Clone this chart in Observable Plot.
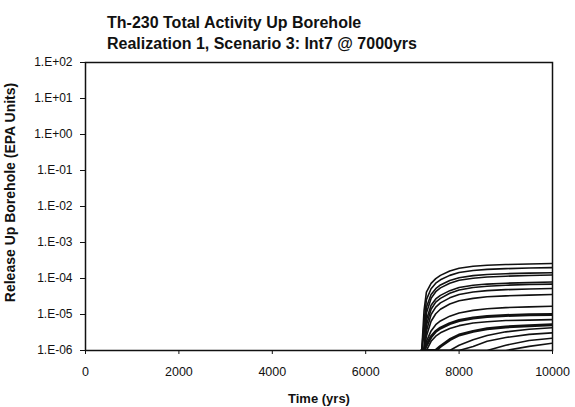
<!DOCTYPE html>
<html>
<head>
<meta charset="utf-8">
<script src="https://cdn.jsdelivr.net/npm/d3@7"></script>
<script src="https://cdn.jsdelivr.net/npm/@observablehq/plot@0.6"></script>
<style>
  html, body { margin: 0; padding: 0; background: #fff; }
  #wrap { position: relative; width: 575px; height: 407px; font-family: "Liberation Sans", Arial, sans-serif; }
  #title { position: absolute; left: 107px; top: 12px; z-index: 2; font-weight: bold; font-size: 16px; line-height: 21px; color: #111; white-space: nowrap; }
  #chart { position: absolute; left: 0; top: 50px; z-index: 1; }
</style>
</head>
<body>
<div id="wrap">
  <div id="title">Th-230 Total Activity Up Borehole<br>Realization 1, Scenario 3: Int7 @ 7000yrs</div>
  <div id="chart"></div>
</div>
<script>
// Time grid (yrs)
const times = [7200, 7250, 7300, 7400, 7500, 7600, 7800, 8000, 8300, 8600, 9000, 9500, 10000];

// Release up borehole (EPA units), one array per realization curve
const s1  = [1e-6, 1.3e-5, 4.2e-5, 7.3e-5, 9.9e-5, 1.22e-4, 1.61e-4, 1.92e-4, 2.18e-4, 2.34e-4, 2.44e-4, 2.52e-4, 2.6e-4];
const s2  = [1e-6, 6e-6, 2.6e-5, 5.2e-5, 7.4e-5, 9.2e-5, 1.22e-4, 1.46e-4, 1.66e-4, 1.79e-4, 1.88e-4, 1.95e-4, 2.0e-4];
const s3  = [1e-6, 3e-6, 1.6e-5, 3.6e-5, 5.2e-5, 6.6e-5, 8.8e-5, 1.05e-4, 1.2e-4, 1.29e-4, 1.36e-4, 1.41e-4, 1.45e-4];
const s4  = [1e-6, 1e-6, 1.1e-5, 2.8e-5, 4.3e-5, 5.5e-5, 7.4e-5, 8.9e-5, 1.02e-4, 1.1e-4, 1.16e-4, 1.21e-4, 1.25e-4];
const s5  = [1e-6, 1e-6, 7e-6, 1.8e-5, 2.7e-5, 3.4e-5, 4.6e-5, 5.6e-5, 6.5e-5, 7.0e-5, 7.4e-5, 7.7e-5, 8.0e-5];
const s6  = [1e-6, 1e-6, 5e-6, 1.4e-5, 2.2e-5, 2.8e-5, 3.9e-5, 4.8e-5, 5.6e-5, 6.1e-5, 6.5e-5, 6.8e-5, 7.0e-5];
const s7  = [1e-6, 1e-6, 3.5e-6, 1.0e-5, 1.6e-5, 2.1e-5, 2.9e-5, 3.6e-5, 4.2e-5, 4.6e-5, 4.9e-5, 5.1e-5, 5.3e-5];
const s8  = [1e-6, 1e-6, 2.5e-6, 6.5e-6, 1.05e-5, 1.4e-5, 1.95e-5, 2.4e-5, 2.8e-5, 3.1e-5, 3.3e-5, 3.45e-5, 3.6e-5];
const s9  = [1e-6, 1e-6, 1.8e-6, 3.5e-6, 5.2e-6, 6.6e-6, 9.0e-6, 1.1e-5, 1.3e-5, 1.44e-5, 1.55e-5, 1.63e-5, 1.7e-5];
const s10 = [1e-6, 1e-6, 1.4e-6, 2.4e-6, 3.4e-6, 4.2e-6, 5.6e-6, 6.8e-6, 8.0e-6, 8.8e-6, 9.4e-6, 9.8e-6, 1.0e-5];
const s11 = [1e-6, 1e-6, 1e-6, 1.8e-6, 2.5e-6, 3.1e-6, 4.1e-6, 4.9e-6, 5.8e-6, 6.3e-6, 6.8e-6, 7.0e-6, 7.2e-6];
const s12 = [1e-6, 1e-6, 1e-6, 1e-6, 1e-6, 1.3e-6, 2.0e-6, 2.7e-6, 3.4e-6, 4.0e-6, 4.5e-6, 4.9e-6, 5.2e-6];
const s13 = [1e-6, 1e-6, 1e-6, 1e-6, 1e-6, 1e-6, 1e-6, 1.4e-6, 2.0e-6, 2.6e-6, 3.3e-6, 3.9e-6, 4.3e-6];
const s14 = [1e-6, 1e-6, 1e-6, 1e-6, 1e-6, 1e-6, 1e-6, 1e-6, 1.3e-6, 1.8e-6, 2.3e-6, 2.8e-6, 3.1e-6];
const s15 = [1e-6, 1e-6, 1e-6, 1e-6, 1e-6, 1e-6, 1e-6, 1e-6, 1e-6, 1e-6, 1.4e-6, 1.9e-6, 2.2e-6];
const s16 = [1e-6, 1e-6, 1e-6, 1e-6, 1e-6, 1e-6, 1e-6, 1e-6, 1e-6, 1e-6, 1e-6, 1.3e-6, 1.6e-6];

const seriesList = [s1, s2, s3, s4, s5, s6, s7, s8, s9, s10, s11, s12, s13, s14, s15, s16];
const thickSeries = [10, 12];

// Tick values
const xTicks = [0, 2000, 4000, 6000, 8000, 10000];
const yTicks = [1e-6, 1e-5, 1e-4, 1e-3, 1e-2, 1e-1, 1e0, 1e1, 1e2];

const data = [];
seriesList.forEach((vals, i) => {
  vals.forEach((v, j) => data.push({series: i + 1, t: times[j], v}));
});

const fmtE = d => {
  const e = Math.round(Math.log10(d));
  return "1.E" + (e >= 0 ? "+" : "-") + String(Math.abs(e)).padStart(2, "0");
};

const chart = Plot.plot({
  width: 575,
  height: 357,
  marginLeft: 85,
  marginRight: 23,
  marginTop: 12,
  marginBottom: 57,
  style: {fontFamily: "'Liberation Sans', Arial, sans-serif", color: "#111", background: "transparent"},
  x: {domain: [0, 10000]},
  y: {type: "log", domain: [1e-6, 1e2]},
  marks: [
    Plot.line(data.filter(d => !thickSeries.includes(d.series)), {x: "t", y: "v", z: "series", stroke: "#111", strokeWidth: 1.6, clip: true}),
    Plot.line(data.filter(d => thickSeries.includes(d.series)), {x: "t", y: "v", z: "series", stroke: "#111", strokeWidth: 3, clip: true}),
    Plot.frame({stroke: "#111", strokeWidth: 1.5}),
    Plot.axisX({ticks: xTicks, tickFormat: d => String(d), tickSize: 4, tickPadding: 13, fontSize: 12.5, label: null, stroke: "#111"}),
    Plot.axisY({ticks: yTicks, tickFormat: fmtE, tickSize: 5, tickPadding: 8, fontSize: 12, label: null, stroke: "#111"}),
    Plot.text(["Time (yrs)"], {frameAnchor: "bottom", dy: 52, fontWeight: "bold", fontSize: 13, fill: "#111"}),
    Plot.text(["Release Up Borehole (EPA Units)"], {frameAnchor: "left", textAnchor: "middle", dx: -75, dy: -14, rotate: -90, fontWeight: "bold", fontSize: 14, fill: "#111"})
  ]
});
document.getElementById("chart").appendChild(chart);
</script>
</body>
</html>
